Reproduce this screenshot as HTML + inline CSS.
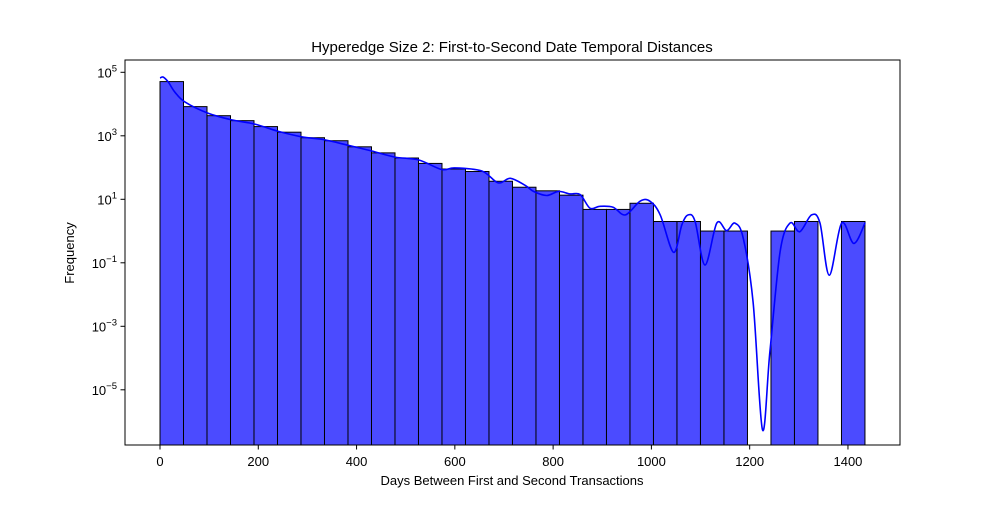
<!DOCTYPE html>
<html><head><meta charset="utf-8"><style>
body{margin:0;background:#fff;}
svg text{font-family:"Liberation Sans","DejaVu Sans",sans-serif;}
</style></head><body>
<svg id="chart" width="1000" height="500" xmlns="http://www.w3.org/2000/svg">
<rect width="1000" height="500" fill="#fff"/>
<text x="512" y="52" font-size="15" text-anchor="middle">Hyperedge Size 2: First-to-Second Date Temporal Distances</text>
<g id="bars"></g>
<g id="kde"></g>
<rect x="125" y="60" width="775" height="385" fill="none" stroke="#000" stroke-width="1"/>
<g id="xaxis"></g>
<g id="yaxis"></g>
<text x="512" y="485" font-size="13" text-anchor="middle">Days Between First and Second Transactions</text>
<text x="74" y="253" font-size="13" text-anchor="middle" transform="rotate(-90 74 253)">Frequency</text>
</svg>
<script>
const binStart = 0;
const binWidth = 47.82;
const counts = [51000, 8300, 4300, 3000, 1950, 1300, 870, 700, 450, 290, 200, 135, 90, 75, 37, 24, 18.5, 13.5, 4.8, 4.8, 7.5, 2, 2, 1, 1, 0, 1, 2, 0, 2];
const kdeDays = [0,6.7,17,30.5,51,98,146,193,241,288,336,383,431,478,526,573,600,655,688,713,743,760,787,811,834,855,875,895,922,947,977,997,1018,1045,1062,1075,1089,1109,1133,1153,1170,1187,1207,1226,1241,1262,1282,1302,1326,1343,1362,1387,1412,1435];
const kdeLog = [4.82,4.85,4.69,4.37,4.06,3.71,3.50,3.37,3.14,2.97,2.87,2.70,2.52,2.33,2.24,1.94,1.99,1.89,1.52,1.66,1.44,1.25,1.12,1.25,1.17,1.15,0.72,0.78,0.75,0.51,0.94,0.94,0.51,-0.67,0.20,0.51,0.30,-1.07,0.25,0.01,0.25,-0.23,-2.24,-6.26,-3.83,-0.65,0.25,-0.02,0.51,0.25,-1.39,0.25,-0.39,0.27];
const xTicks = [0,200,400,600,800,1000,1200,1400];
const yTicks = [5,3,1,-1,-3,-5];

const NS = "http://www.w3.org/2000/svg";
const X0 = 160, XS = 0.4914;
const Y5 = 72.3, YD = 31.75, BOTTOM = 445;
function xPos(d){ return X0 + d*XS; }
function yPos(lg){ return Y5 + (5-lg)*YD; }
function mk(tag, attrs, parent){ const e=document.createElementNS(NS,tag); for(const k in attrs) e.setAttribute(k,attrs[k]); parent.appendChild(e); return e; }

const bars = document.getElementById('bars');
counts.forEach((c,i)=>{
  if(c<=0) return;
  const x1 = xPos(binStart + i*binWidth), x2 = xPos(binStart + (i+1)*binWidth);
  const yt = yPos(Math.log10(c));
  const r = mk('rect',{x:x1,y:yt,width:x2-x1,height:BOTTOM-yt,fill:'#4b4bff',stroke:'#000','stroke-width':1},bars);
  
  
});

const kde = document.getElementById('kde');
const pts = kdeDays.map((v,i)=>[xPos(v), yPos(kdeLog[i])]);
let d = 'M' + pts[0][0].toFixed(1) + ',' + pts[0][1].toFixed(1);
for(let i=0;i<pts.length-1;i++){
  const p0 = pts[Math.max(0,i-1)], p1 = pts[i], p2 = pts[i+1], p3 = pts[Math.min(pts.length-1,i+2)];
  const c1 = [p1[0]+(p2[0]-p0[0])/6, p1[1]+(p2[1]-p0[1])/6];
  const c2 = [p2[0]-(p3[0]-p1[0])/6, p2[1]-(p3[1]-p1[1])/6];
  d += 'C' + c1[0].toFixed(1)+','+c1[1].toFixed(1)+' '+c2[0].toFixed(1)+','+c2[1].toFixed(1)+' '+p2[0].toFixed(1)+','+p2[1].toFixed(1);
}
const kp = mk('path',{d:d,fill:'none',stroke:'#0000ff','stroke-width':1.6,'stroke-linejoin':'round'},kde);



const xa = document.getElementById('xaxis');
xTicks.forEach(t=>{
  const x = xPos(t);
  const l = mk('line',{x1:x,x2:x,y1:445,y2:449.5,stroke:'#000'},xa);
  
  
  const tx = mk('text',{x:x,y:466,'font-size':13,'text-anchor':'middle'},xa);
  tx.textContent = t;
  
  
});
const ya = document.getElementById('yaxis');
yTicks.forEach(t=>{
  const y = yPos(t);
  const l = mk('line',{x1:120.5,x2:125,y1:y,y2:y,stroke:'#000'},ya);
  
  
  const tx = mk('text',{x:117,y:y+5,'font-size':13,'text-anchor':'end'},ya);
  
  
  const b = document.createElementNS(NS,'tspan'); b.textContent='10'; tx.appendChild(b);
  const s = document.createElementNS(NS,'tspan'); s.setAttribute('dy','-6'); s.setAttribute('font-size','9.5');
  s.textContent = t<0 ? '\u2212'+(-t) : String(t); tx.appendChild(s);
});
</script>
</body></html>
